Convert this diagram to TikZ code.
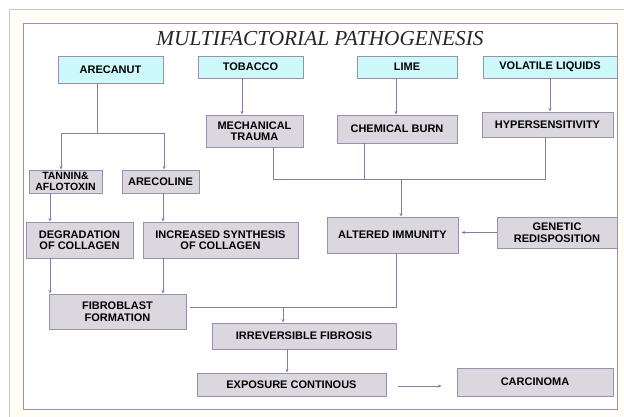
\documentclass[tikz,border=0pt]{standalone}
\usepackage{fontspec}
\setmainfont{Liberation Sans}
\newfontfamily\titlefont{Liberation Serif}
\usetikzlibrary{arrows.meta}
\definecolor{lnc}{HTML}{8A7BA6}
\definecolor{bdc}{HTML}{9A8FB0}
\definecolor{grayfill}{HTML}{DAD7DF}
\definecolor{cyanfill}{HTML}{CDF9FA}
\definecolor{outerc}{HTML}{C8C8C8}
\definecolor{creamc}{HTML}{FFFDF6}
\tikzset{
  x=1pt, y=-1pt,
  boxbase/.style={draw=bdc, line width=0.9pt, inner sep=1pt, align=center,
    font=\fontsize{11}{11.5}\selectfont\bfseries, text=black},
  srcbox/.style={boxbase, fill=cyanfill},
  procbox/.style={boxbase, fill=grayfill},
  conn/.style={draw=lnc, line width=0.8pt},
  arr/.style={conn, -{Stealth[length=3.5pt,width=3pt]}},
}
\begin{document}
\begin{tikzpicture}
\useasboundingbox (0,0) rectangle (624,416);
\begin{scope}
\clip (0,0) rectangle (624,416);
\fill[white] (0,0) rectangle (624,416);
\draw[outerc, fill=creamc, line width=0.8pt] (9,9) rectangle (640,430);
\end{scope}
\draw[draw=bdc, fill=white, line width=0.8pt] (23,23) rectangle (617,409);
\node[font=\titlefont\itshape\fontsize{21.3}{23}\selectfont, text=black!85] (title) at (320,39) {MULTIFACTORIAL PATHOGENESIS};

% sources
\node[srcbox, minimum width=105pt, minimum height=27pt] (are) at (110.5,69.5) {ARECANUT};
\node[srcbox, minimum width=105pt, minimum height=22pt] (tob) at (250.5,67) {TOBACCO};
\node[srcbox, minimum width=100pt, minimum height=22pt] (lime) at (407,67) {LIME};
\node[srcbox, minimum width=134pt, minimum height=22pt] (vol) at (550,67) {VOLATILE LIQUIDS};

% process boxes
\node[procbox, minimum width=97pt, minimum height=32pt] (mech) at (254.5,131) {MECHANICAL\\TRAUMA};
\node[procbox, minimum width=120pt, minimum height=28pt] (chem) at (397,129) {CHEMICAL BURN};
\node[procbox, minimum width=131pt, minimum height=25pt] (hyp) at (547.5,124.5) {HYPERSENSITIVITY};
\node[procbox, minimum width=73pt, minimum height=23pt, inner sep=0pt, font=\fontsize{10.5}{10.5}\selectfont\bfseries] (tan) at (65.5,181.5) {TANNIN\&\\AFLOTOXIN};
\node[procbox, minimum width=77pt, minimum height=23pt] (arl) at (160.5,181.5) {ARECOLINE};
\node[procbox, minimum width=107pt, minimum height=36pt] (deg) at (79.5,240) {DEGRADATION\\OF COLLAGEN};
\node[procbox, minimum width=155pt, minimum height=36pt] (inc) at (220.5,240) {INCREASED SYNTHESIS\\OF COLLAGEN};
\node[procbox, minimum width=137pt, minimum height=35pt] (fib) at (117.5,311.5) {FIBROBLAST\\FORMATION};
\node[procbox, minimum width=131pt, minimum height=36pt] (alt) at (392.5,235) {ALTERED IMMUNITY};
\node[procbox, minimum width=120pt, minimum height=31pt] (gen) at (557,232.5) {GENETIC\\REDISPOSITION};
\node[procbox, minimum width=184pt, minimum height=26pt] (irr) at (304,336) {IRREVERSIBLE FIBROSIS};
\node[procbox, minimum width=189pt, minimum height=23pt] (exp) at (291.5,384.5) {EXPOSURE CONTINOUS};
\node[procbox, minimum width=156pt, minimum height=28pt] (car) at (535,382) {CARCINOMA};

% bend coordinates
\coordinate (b1) at (97,133);
\coordinate (b1l) at (61,133);
\coordinate (b1r) at (164,133);
\coordinate (xt) at (242,0);
\coordinate (xl) at (396,0);
\coordinate (xv) at (550,0);
\coordinate (m1) at (273,179);
\coordinate (c1) at (364,179);
\coordinate (h1) at (545,179);
\coordinate (j1) at (401,179);
\coordinate (xa) at (50,0);
\coordinate (xb) at (163,0);
\coordinate (f1) at (190,307);
\coordinate (a1) at (396,307);
\coordinate (i1) at (283,307);
\coordinate (xe) at (287,0);
\coordinate (ec) at (0,386);

% arecanut branch
\draw[conn] (are.south -| b1) -- (b1);
\draw[conn] (b1l) -- (b1r);
\draw[arr] (b1l) -- (tan.north -| b1l);
\draw[arr] (b1r) -- (arl.north -| b1r);

% sources to effects
\draw[arr] (tob.south -| xt) -- (mech.north -| xt);
\draw[arr] (lime.south -| xl) -- (chem.north -| xl);
\draw[arr] (vol.south -| xv) -- (hyp.north -| xv);

% merging into altered immunity
\draw[conn] (mech.south -| m1) -- (m1) -- (h1) -- (hyp.south -| h1);
\draw[conn] (chem.south -| c1) -- (c1);
\draw[arr] (j1) -- (alt.north -| j1);
\draw[arr] (gen.west) -- ([xshift=3pt]alt.east |- gen.west);

% collagen chains
\draw[arr] (tan.south -| xa) -- (deg.north -| xa);
\draw[arr] (arl.south -| xb) -- (inc.north -| xb);
\draw[arr] (deg.south -| xa) -- (fib.north -| xa);
\draw[arr] (inc.south -| xb) -- (fib.north -| xb);

% to irreversible fibrosis
\draw[conn] (f1) -- (a1) -- (alt.south -| a1);
\draw[arr] (i1) -- (irr.north -| i1);
\draw[arr] (irr.south -| xe) -- (exp.north -| xe);

% to carcinoma
\draw[arr, shorten <=12pt, shorten >=15pt] (exp.east |- ec) -- (car.west |- ec);
\end{tikzpicture}
\end{document}
